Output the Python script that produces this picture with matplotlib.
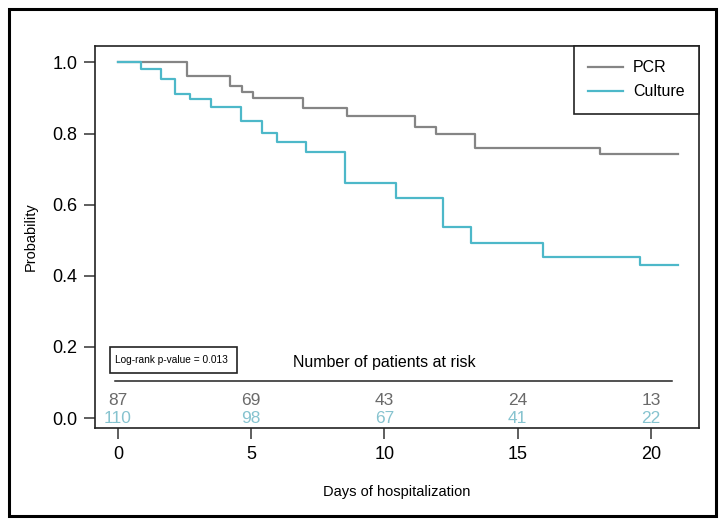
import matplotlib
matplotlib.use('Agg')
import matplotlib.pyplot as plt
from matplotlib.patches import Rectangle
import numpy as np

plt.rcParams['font.family'] = ['Liberation Sans', 'DejaVu Sans']

# Kaplan-Meier step curves (time of each drop, survival after the drop)
PCR_TIMES = [0, 2.6, 4.2, 4.65, 5.05, 6.95, 8.6, 11.15, 11.95, 13.4, 18.1]
PCR_SURV = [1.0, 0.962, 0.934, 0.917, 0.899, 0.871, 0.850, 0.819, 0.799, 0.758, 0.742]
CULT_TIMES = [0, 0.85, 1.6, 2.15, 2.7, 3.5, 4.6, 5.4, 5.95, 7.05, 8.5, 10.45,
              12.2, 13.25, 15.95, 19.6]
CULT_SURV = [1.0, 0.981, 0.952, 0.911, 0.898, 0.875, 0.836, 0.802, 0.777, 0.749,
             0.662, 0.618, 0.536, 0.491, 0.452, 0.429]
T_END = 21

RISK_TIMES = [0, 5, 10, 15, 20]
PCR_RISK = [87, 69, 43, 24, 13]
CULT_RISK = [110, 98, 67, 41, 22]

XTICKS = [0, 5, 10, 15, 20]
YTICKS = [0.0, 0.2, 0.4, 0.6, 0.8, 1.0]

PCR_COLOR = '#858585'
CULT_COLOR = '#4db8c9'
PCR_TXT = '#6a6a6a'
CULT_TXT = '#86c3cf'


def steps(times, surv, t_end):
    x = list(times) + [t_end]
    y = list(surv) + [surv[-1]]
    return x, y


fig = plt.figure(figsize=(7.24, 5.24), dpi=100)
ax = fig.add_axes([0.1316, 0.1832, 0.9655 - 0.1316, 0.9122 - 0.1832])

x, y = steps(PCR_TIMES, PCR_SURV, T_END)
ax.step(x, y, where='post', color=PCR_COLOR, lw=1.6, label='PCR')
x, y = steps(CULT_TIMES, CULT_SURV, T_END)
ax.step(x, y, where='post', color=CULT_COLOR, lw=1.6, label='Culture')

ax.set_xlim(-0.85, 21.8)
ax.set_ylim(-0.028, 1.046)
ax.set_xticks(XTICKS)
ax.set_yticks(YTICKS)
ax.set_yticklabels([f'{v:.1f}' for v in YTICKS])
ax.tick_params(axis='both', direction='out', length=8, width=1.1,
               labelsize=13, pad=5, color='#333333')
for s in ax.spines.values():
    s.set_linewidth(1.2)
    s.set_color('#222222')

ax.set_xlabel('Days of hospitalization', fontsize=10.5, labelpad=16)
ax.set_ylabel('Probability', fontsize=10.5, labelpad=10)

# number at risk table inside the plot
ax.text(10, 0.155, 'Number of patients at risk', ha='center', va='center',
        fontsize=11.5)
ax.plot([-0.1, 20.8], [0.104, 0.104], color='#222222', lw=1.1)
for t, n in zip(RISK_TIMES, PCR_RISK):
    ax.text(t, 0.05, str(n), ha='center', va='center', fontsize=12.5, color=PCR_TXT)
for t, n in zip(RISK_TIMES, CULT_RISK):
    ax.text(t, 0.0, str(n), ha='center', va='center', fontsize=12.5, color=CULT_TXT)

ax.add_patch(Rectangle((-0.3, 0.127), 4.77, 0.073, fill=False,
                       edgecolor='#222222', lw=1.2))
ax.text(-0.12, 0.163, 'Log-rank p-value = 0.013', ha='left', va='center',
        fontsize=7.3)

leg = ax.legend(loc='upper right', borderaxespad=0, fontsize=11.5,
                handlelength=2.2, handletextpad=0.6, labelspacing=0.55,
                borderpad=0.9, fancybox=False, framealpha=1)
leg.get_frame().set_edgecolor('#222222')
leg.get_frame().set_linewidth(1.2)

# outer border around the whole figure
fig.patches.append(Rectangle((9 / 724, 1 - 516 / 524), 707 / 724, 507 / 524,
                             transform=fig.transFigure, fill=False,
                             edgecolor='black', lw=2.2))

fig.savefig('out.png', dpi=100)
